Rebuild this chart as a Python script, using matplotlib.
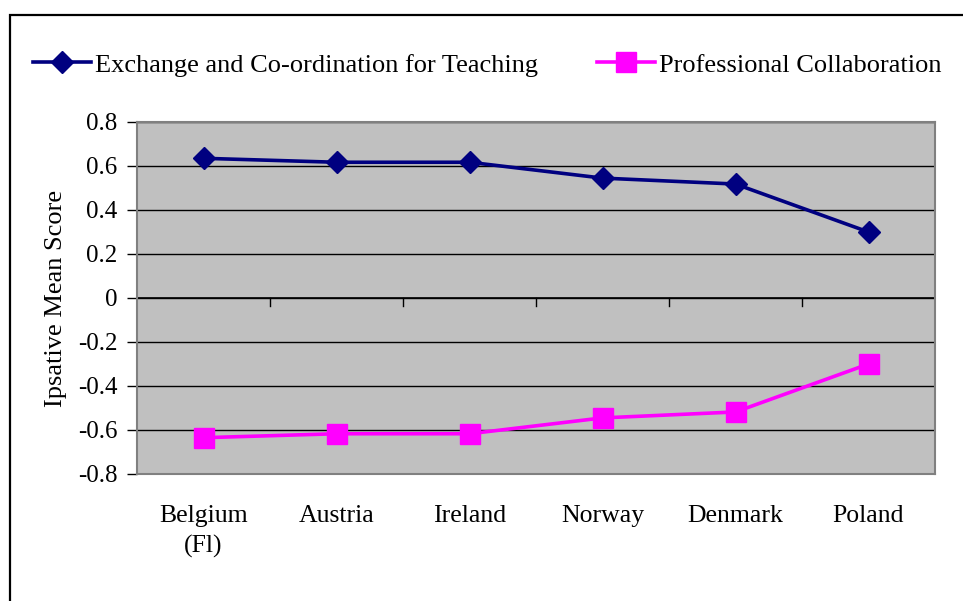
import matplotlib
matplotlib.use('Agg')
import matplotlib.pyplot as plt
from matplotlib.patches import Rectangle

countries = ['Belgium\n(Fl)', 'Austria', 'Ireland', 'Norway', 'Denmark', 'Poland']
exchange = [0.635, 0.617, 0.617, 0.545, 0.518, 0.30]
collab = [-0.635, -0.617, -0.617, -0.545, -0.518, -0.30]
yticks = [-0.8, -0.6, -0.4, -0.2, 0, 0.2, 0.4, 0.6, 0.8]
ytick_labels = ['-0.8', '-0.6', '-0.4', '-0.2', '0', '0.2', '0.4', '0.6', '0.8']

plt.rcParams['font.family'] = ['Liberation Serif', 'DejaVu Serif']

W, H = 963, 601
fig = plt.figure(figsize=(W / 100, H / 100), dpi=100)
ax = fig.add_axes([137 / W, 1 - 474 / H, (935 - 137) / W, (474 - 122) / H])

# outer frame (runs off the right and bottom edges)
fig.patches.append(Rectangle((10 / W, -0.05), 1.2, 1 - 15 / H + 0.05,
                             transform=fig.transFigure, fill=False,
                             edgecolor='black', linewidth=1.6))

ax.set_facecolor('#C0C0C0')
for s in ax.spines.values():
    s.set_color('#808080')
    s.set_linewidth(1.5)

x = list(range(len(countries)))
ax.plot(x, exchange, color='#000080', linewidth=2.6, marker='D',
        markersize=11, label='Exchange and Co-ordination for Teaching', zorder=3)
ax.plot(x, collab, color='#FF00FF', linewidth=2.6, marker='s',
        markersize=14, label='Professional Collaboration', zorder=3)

ax.set_xlim(-0.5, len(countries) - 0.5)
ax.set_ylim(-0.8, 0.8)
ax.set_yticks(yticks)
ax.set_yticklabels(ytick_labels)
ax.yaxis.grid(True, color='black', linewidth=1.0)
ax.set_axisbelow(True)
ax.tick_params(axis='y', length=7, width=1, color='black', labelsize=18, pad=7)

# category labels below the plot, boundary ticks on the zero line
ax.set_xticks(x)
ax.set_xticklabels(countries, fontsize=18.5, linespacing=1.5)
ax.tick_params(axis='x', length=0, pad=22)
ax.axhline(0, color='black', linewidth=1.2, zorder=2)
for b in range(1, len(countries)):
    ax.plot([b - 0.5, b - 0.5], [0, -0.035], color='black', linewidth=1.0, zorder=2)

ax.set_ylabel('Ipsative Mean Score', fontsize=19, labelpad=8)

fig.legend(loc='center left', bbox_to_anchor=(33 / W, 1 - 65 / H),
           ncol=2, frameon=False, fontsize=19, handlelength=2.2, handletextpad=0.15,
           columnspacing=2.25, borderaxespad=0, borderpad=0)

fig.savefig('out.png', dpi=100)
